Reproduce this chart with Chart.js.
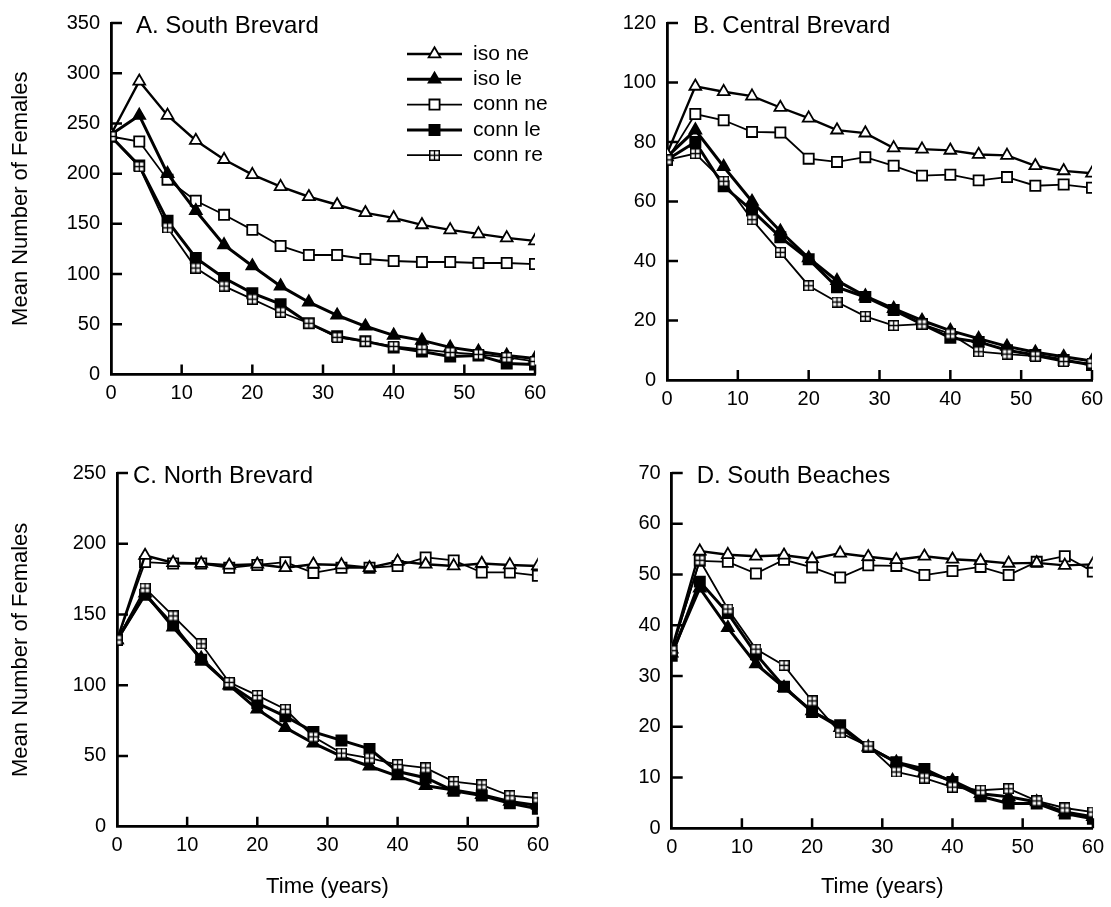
<!DOCTYPE html>
<html>
<head>
<meta charset="utf-8">
<title>Mean Number of Females</title>
<script src="https://cdn.jsdelivr.net/npm/chart.js@4.4.1/dist/chart.umd.min.js"></script>
<style>
    html, body { margin: 0; padding: 0; background: #fff; }
    #wrap { position: relative; width: 1111px; height: 907px; overflow: hidden; background: #fff; }
    #wrap canvas { position: absolute; }
</style>
</head>
<body>
<div id="wrap">
    <canvas id="chart-a" width="556" height="450" style="left:0px;top:0px"></canvas>
    <canvas id="chart-b" width="555" height="450" style="left:556px;top:0px"></canvas>
    <canvas id="chart-c" width="556" height="457" style="left:0px;top:450px"></canvas>
    <canvas id="chart-d" width="555" height="457" style="left:556px;top:450px"></canvas>
</div>
<script>
// ============================================
// DATA
// ============================================

const years = [0, 4, 8, 12, 16, 20, 24, 28, 32, 36, 40, 44, 48, 52, 56, 60];
const seriesNames = ['iso ne', 'iso le', 'conn ne', 'conn le', 'conn re'];
const xTicks = [0, 10, 20, 30, 40, 50, 60];
const panelTitles = ['A. South Brevard', 'B. Central Brevard', 'C. North Brevard', 'D. South Beaches'];

// A. South Brevard
const yTicksA = [0, 50, 100, 150, 200, 250, 300, 350];
const aIsoNe  = [239, 292, 258, 233, 214, 199, 187, 177, 169, 161, 156, 149, 144, 140, 136, 133];
const aIsoLe  = [239, 258, 200, 163, 129, 108, 88, 72, 59, 48, 39, 34, 27, 23, 19, 16];
const aConnNe = [237, 232, 194, 173, 159, 144, 128, 119, 119, 115, 113, 112, 112, 111, 111, 110];
const aConnLe = [237, 208, 153, 116, 96, 81, 70, 51, 38, 33, 27, 23, 18, 19, 11, 10];
const aConnRe = [237, 207, 146, 106, 88, 75, 62, 51, 37, 33, 28, 25, 22, 20, 17, 13];

// B. Central Brevard
const yTicksB = [0, 20, 40, 60, 80, 100, 120];
const bIsoNe  = [76, 98.7, 96.9, 95.4, 91.6, 88, 84, 83, 78, 77.6, 77.2, 75.8, 75.5, 72, 70.3, 69.5];
const bIsoLe  = [75, 84, 71.7, 60, 50, 41, 33.4, 28.2, 24, 20, 16.6, 13.9, 11.3, 9.3, 7.8, 6.4];
const bConnNe = [74, 89.4, 87.3, 83.4, 83.2, 74.4, 73.3, 74.9, 72, 68.7, 69, 67.1, 68.2, 65.3, 65.7, 64.6];
const bConnLe = [74, 80, 65.1, 57, 48, 40.6, 31.2, 27.9, 23.5, 18.8, 14.2, 12.8, 10, 8.4, 6.7, 5];
const bConnRe = [74, 76.1, 66.8, 53.9, 42.9, 31.7, 26.2, 21.4, 18.3, 18.8, 15.5, 9.5, 8.7, 8, 6.2, 5.6];

// C. North Brevard
const yTicksC = [0, 50, 100, 150, 200, 250];
const cIsoNe  = [132, 191.7, 186.6, 186, 184.8, 185.5, 183, 185.5, 185, 183, 187.5, 185.5, 184.3, 186, 185, 184.3];
const cIsoLe  = [132, 165, 141, 119, 100, 83, 70, 59, 49.7, 42.7, 35.8, 28.9, 25.9, 22.6, 17.8, 15];
const cConnNe = [132, 187, 186, 186, 183, 185, 187, 179.4, 183, 183, 184.3, 190.3, 188.2, 179.7, 179.7, 177.4];
const cConnLe = [132, 164, 142.7, 118, 100.5, 87.3, 78, 67, 61, 55, 39, 34.6, 25.4, 22, 16.6, 12.7];
const cConnRe = [132, 168.6, 149, 129.3, 102, 92.8, 83, 63.5, 52, 48.5, 43.9, 41.6, 31.9, 29.6, 21.9, 20.3];

// D. South Beaches
const yTicksD = [0, 10, 20, 30, 40, 50, 60, 70];
const dIsoNe  = [35.3, 54.6, 53.9, 53.6, 53.8, 53.1, 54.2, 53.5, 52.9, 53.6, 53, 52.7, 52.2, 52.3, 51.8, 52];
const dIsoLe  = [34.5, 47.3, 39.5, 32.4, 27.7, 23.1, 19.8, 16, 13, 11.1, 9.4, 6.8, 6.2, 5.2, 3.2, 2.3];
const dConnNe = [35, 52.7, 52.5, 50.2, 52.9, 51.4, 49.4, 51.8, 51.7, 49.9, 50.7, 51.5, 49.9, 52.5, 53.6, 50.6];
const dConnLe = [34, 48.6, 42.4, 34.3, 27.9, 22.9, 20.3, 16, 13, 11.7, 9.1, 6.3, 4.9, 4.9, 2.9, 1.9];
const dConnRe = [35, 52.8, 43.2, 35.3, 32.1, 25.1, 18.8, 16.2, 11.1, 9.9, 8.1, 7.5, 7.8, 5.4, 4, 3.2];

// ============================================
// STYLES
// ============================================

const FONT = "'Liberation Sans', Arial, Helvetica, sans-serif";
Chart.defaults.font.family = FONT;
Chart.defaults.color = '#000';

// open square with a cross inside, for "conn re"
function makeCrossSquare() {
    const c = document.createElement('canvas');
    c.width = 11; c.height = 11;
    const g = c.getContext('2d');
    g.fillStyle = '#fff';
    g.fillRect(0, 0, 11, 11);
    g.strokeStyle = '#000';
    g.lineWidth = 1.5;
    g.strokeRect(0.75, 0.75, 9.5, 9.5);
    g.lineWidth = 1.3;
    g.beginPath();
    g.moveTo(5.5, 1); g.lineTo(5.5, 10);
    g.moveTo(1, 5.5); g.lineTo(10, 5.5);
    g.stroke();
    return c;
}
const crossSquare = makeCrossSquare();

const seriesStyles = [
    { pointStyle: 'triangle', fill: '#fff', radius: 6.8, lineWidth: 2.4, order: 1 },
    { pointStyle: 'triangle', fill: '#000', radius: 6.8, lineWidth: 3,   order: 1 },
    { pointStyle: 'rect',     fill: '#fff', radius: 7.2, lineWidth: 1.8, order: 1 },
    { pointStyle: 'rect',     fill: '#000', radius: 7.2, lineWidth: 3,   order: 1 },
    { pointStyle: crossSquare, fill: '#fff', radius: 6,  lineWidth: 1.8, order: 0 }
];

// ============================================
// PLUGINS
// ============================================

// tick marks pointing into the plot
const innerTicks = {
    id: 'innerTicks',
    beforeDatasetsDraw(chart) {
        const { ctx, chartArea: a, scales: { x, y } } = chart;
        ctx.save();
        ctx.strokeStyle = '#000';
        ctx.lineWidth = 2.5;
        ctx.beginPath();
        x.ticks.forEach(t => {
            if (t.value === 0) return;
            const px = x.getPixelForValue(t.value);
            ctx.moveTo(px, a.bottom);
            ctx.lineTo(px, a.bottom - 10);
        });
        y.ticks.forEach(t => {
            if (t.value === 0) return;
            const py = y.getPixelForValue(t.value);
            ctx.moveTo(a.left, py);
            ctx.lineTo(a.left + 11, py);
        });
        ctx.stroke();
        ctx.restore();
    }
};

const panelTitle = {
    id: 'panelTitle',
    afterDraw(chart, args, opts) {
        const { ctx, chartArea: a } = chart;
        ctx.save();
        ctx.fillStyle = '#000';
        ctx.font = '24px ' + FONT;
        ctx.textBaseline = 'middle';
        ctx.textAlign = 'left';
        ctx.fillText(opts.text, a.left + opts.dx, a.top + 3);
        ctx.restore();
    }
};

function drawMarker(ctx, st, x, y) {
    ctx.fillStyle = st.fill;
    ctx.strokeStyle = '#000';
    ctx.lineWidth = 1.8;
    if (Chart.helpers && Chart.helpers.drawPoint) {
        Chart.helpers.drawPoint(ctx, { pointStyle: st.pointStyle, radius: st.radius, rotation: 0, borderWidth: 1.8 }, x, y);
        return;
    }
    if (st.pointStyle instanceof HTMLCanvasElement) {
        ctx.drawImage(st.pointStyle, x - st.pointStyle.width / 2, y - st.pointStyle.height / 2);
    }
}

// legend inside panel A
const innerLegend = {
    id: 'innerLegend',
    afterDraw(chart, args, opts) {
        if (!opts.show) return;
        const { ctx } = chart;
        ctx.save();
        ctx.font = '21px ' + FONT;
        ctx.textBaseline = 'middle';
        seriesNames.forEach((name, i) => {
            const st = seriesStyles[i];
            const y = opts.top + i * opts.step;
            ctx.strokeStyle = '#000';
            ctx.lineWidth = st.lineWidth;
            ctx.beginPath();
            ctx.moveTo(opts.lineStart, y);
            ctx.lineTo(opts.lineEnd, y);
            ctx.stroke();
            drawMarker(ctx, st, (opts.lineStart + opts.lineEnd) / 2, y);
            ctx.fillStyle = '#000';
            ctx.fillText(name, opts.textX, y);
        });
        ctx.restore();
    }
};

// ============================================
// CHARTS
// ============================================

function buildDatasets(values) {
    return values.map((vals, i) => {
        const st = seriesStyles[i];
        return {
            label: seriesNames[i],
            data: years.map((yr, k) => ({ x: yr, y: vals[k] })),
            borderColor: '#000',
            borderWidth: st.lineWidth,
            tension: 0,
            fill: false,
            pointStyle: st.pointStyle,
            pointRadius: st.radius,
            pointBackgroundColor: st.fill,
            pointBorderColor: '#000',
            pointBorderWidth: 1.8,
            order: st.order
        };
    });
}

function makePanel(id, spec) {
    const el = document.getElementById(id);
    new Chart(el, {
        type: 'line',
        data: { datasets: buildDatasets(spec.values) },
        plugins: [innerTicks, panelTitle, innerLegend],
        options: {
            responsive: false,
            animation: false,
            layout: { padding: { top: spec.padTop, right: spec.padRight, left: 0, bottom: 0 } },
            plugins: {
                legend: { display: false },
                tooltip: { enabled: false },
                panelTitle: { text: spec.title, dx: spec.titleDx },
                innerLegend: spec.legend || { show: false }
            },
            scales: {
                x: {
                    type: 'linear',
                    min: 0,
                    max: 60,
                    afterBuildTicks: s => { s.ticks = xTicks.map(v => ({ value: v })); },
                    afterFit: s => { s.height = spec.xHeight; },
                    grid: { display: false, drawTicks: false },
                    border: { display: true, color: '#000', width: 2.8 },
                    ticks: { padding: 7, font: { size: 20 }, color: '#000', maxRotation: 0 },
                    title: {
                        display: spec.xTitle,
                        text: 'Time (years)',
                        font: { size: 22 },
                        color: '#000',
                        padding: { top: 0, bottom: 7 }
                    }
                },
                y: {
                    type: 'linear',
                    min: spec.yTicks[0],
                    max: spec.yTicks[spec.yTicks.length - 1],
                    afterBuildTicks: s => { s.ticks = spec.yTicks.map(v => ({ value: v })); },
                    afterFit: s => { s.width = spec.yWidth; },
                    grid: { display: false, drawTicks: false },
                    border: { display: true, color: '#000', width: 2.8 },
                    ticks: { padding: 11, font: { size: 20 }, color: '#000' },
                    title: {
                        display: spec.yTitle,
                        text: 'Mean Number of Females',
                        font: { size: 22 },
                        color: '#000',
                        padding: { top: 8, bottom: 0 }
                    }
                }
            }
        }
    });
}

document.addEventListener('DOMContentLoaded', () => {
    makePanel('chart-a', {
        title: panelTitles[0], titleDx: 25,
        values: [aIsoNe, aIsoLe, aConnNe, aConnLe, aConnRe], yTicks: yTicksA,
        padTop: 16, padRight: 21, yWidth: 111, xHeight: 75.5,
        yTitle: true, xTitle: false,
        legend: { show: true, top: 54, step: 25.3, lineStart: 407, lineEnd: 462, textX: 473 }
    });
    makePanel('chart-b', {
        title: panelTitles[1], titleDx: 26,
        values: [bIsoNe, bIsoLe, bConnNe, bConnLe, bConnRe], yTicks: yTicksB,
        padTop: 19, padRight: 19, yWidth: 111, xHeight: 70,
        yTitle: false, xTitle: false
    });
    makePanel('chart-c', {
        title: panelTitles[2], titleDx: 16,
        values: [cIsoNe, cIsoLe, cConnNe, cConnLe, cConnRe], yTicks: yTicksC,
        padTop: 15, padRight: 16, yWidth: 117, xHeight: 80.3,
        yTitle: true, xTitle: true
    });
    makePanel('chart-d', {
        title: panelTitles[3], titleDx: 25,
        values: [dIsoNe, dIsoLe, dConnNe, dConnLe, dConnRe], yTicks: yTicksD,
        padTop: 18.3, padRight: 14.3, yWidth: 115.7, xHeight: 78.7,
        yTitle: false, xTitle: true
    });
});
</script>
</body>
</html>
